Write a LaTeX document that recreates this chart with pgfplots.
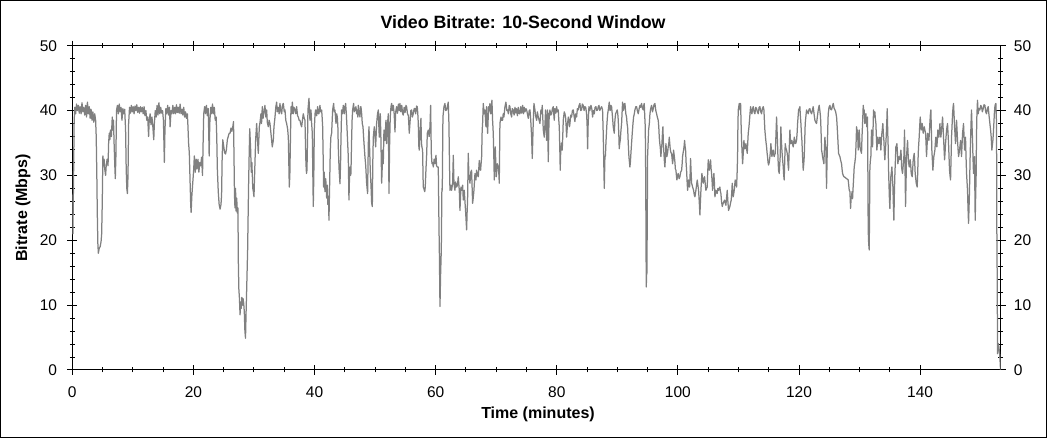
\documentclass[border=0pt]{standalone}
\usepackage{pgfplots}
\pgfplotsset{compat=1.18}
\usepackage{fontspec}
\setmainfont{Liberation Sans}
\definecolor{linegray}{RGB}{128,128,128}
\begin{document}
\begin{tikzpicture}
\draw[black, line width=1pt] (0.5pt,0.5pt) rectangle (1046.5pt,437.5pt);
\begin{axis}[
  at={(72.3pt,68pt)}, anchor=south west,
  scale only axis, width=928.4pt, height=324.3pt,
  xmin=0, xmax=153.3, ymin=0, ymax=50,
  xtick={0,20,...,140}, ytick={0,10,...,50},
  minor x tick num=3, minor y tick num=4,
  tick align=center, major tick length=10pt, minor tick length=5pt,
  tick style={black, line width=1pt},
  axis line style={black, line width=1pt},
  /pgf/number format/assume math mode=true,
  every tick label/.append style={font=\fontsize{15.5}{18}\selectfont},
  xticklabel style={anchor=base, inner sep=0pt, yshift=-22.5pt},
  yticklabel style={anchor=east, inner sep=0pt, xshift=-10pt},
  clip=true,
]
\addplot[color=linegray, line width=1.25pt, line join=round, mark=none] coordinates {
(0,27) (0.1,21) (0.2,29) (0.3,38) (0.4,40.5) (0.55,39.5) (0.7,41) (0.85,40) (1,40.8) (1.15,39.6) (1.3,40.6) (1.45,39.5) (1.6,41.2) (1.75,39.8) (1.9,40.5) (2.05,39.3) (2.2,40.8) (2.35,39) (2.5,41.3) (2.65,39.5)
(2.8,40.6) (2.95,38.8) (3.1,40.2) (3.25,38.5) (3.4,39.8) (3.55,38.2) (3.7,39.5) (3.85,38.5) (3.95,36) (4.05,30) (4.13,24) (4.22,19.5) (4.3,18) (4.45,18.8) (4.6,19) (4.75,19.8) (4.85,21) (4.95,26) (5.05,33) (5.15,31.5)
(5.25,32.5) (5.35,31) (5.5,30) (5.6,31.5) (5.75,32.5) (5.9,31.5) (6,35) (6.1,36.5) (6.2,35.5) (6.3,37) (6.45,36) (6.6,39) (6.7,37) (6.8,38.5) (6.9,35) (7,32) (7.1,29.5) (7.2,33) (7.3,40) (7.45,40.8)
(7.6,39.5) (7.75,41) (7.9,39.8) (8.05,40.5) (8.2,38.5) (8.35,40.3) (8.5,39.5) (8.65,40.2) (8.8,37) (8.9,31) (9,28) (9.1,27.2) (9.2,30) (9.3,38) (9.45,40.5) (9.6,39.6) (9.75,40.8) (9.9,39.8) (10.05,40.6) (10.2,39.5)
(10.35,40.7) (10.5,40) (10.65,40.9) (10.8,39.7) (10.95,40.5) (11.1,39.6) (11.25,40.6) (11.4,39.8) (11.55,40.5) (11.7,39.5) (11.85,40.6) (12,39.2) (12.15,40) (12.3,38.5) (12.45,39) (12.6,36) (12.7,38.5) (12.85,39.5) (13,37.8) (13.15,39)
(13.3,37.5) (13.45,35.5) (13.55,38) (13.7,40) (13.85,39) (14,40.8) (14.15,39.3) (14.3,41.2) (14.45,39.5) (14.6,40.5) (14.75,39.6) (14.9,40) (15.05,38.5) (15.2,32) (15.3,37) (15.45,40.3) (15.6,39.5) (15.75,40.8) (15.9,39.3) (16.05,40.5)
(16.15,37.5) (16.3,40) (16.45,39.5) (16.6,40.8) (16.75,39.5) (16.9,40.5) (17.05,39.5) (17.2,40.9) (17.35,39.7) (17.5,40.5) (17.65,39.6) (17.8,41) (17.95,39.5) (18.1,40.2) (18.25,39.3) (18.4,40.5) (18.55,39) (18.7,39.8) (18.85,38.8) (19,39.5)
(19.1,37.5) (19.2,35) (19.32,33.5) (19.45,29) (19.55,25.5) (19.62,24.3) (19.75,27) (19.9,29) (20.05,31) (20.15,33) (20.3,30.5) (20.45,32.5) (20.6,31) (20.75,32.5) (20.9,30.5) (21.05,32) (21.2,31.5) (21.35,32.8) (21.5,30) (21.6,35)
(21.7,39.5) (21.85,40.6) (22,39.5) (22.15,40.8) (22.3,39.2) (22.45,40.3) (22.6,33) (22.7,38) (22.85,40.5) (23,39.5) (23.15,41) (23.3,39.5) (23.45,40.5) (23.6,38.5) (23.75,39) (23.85,36) (23.95,31) (24.1,27.5) (24.25,25.5) (24.4,24.8)
(24.55,25.5) (24.65,27) (24.75,33) (24.85,35.5) (25,34.5) (25.15,33.5) (25.3,33.3) (25.45,34) (25.6,35.5) (25.75,36) (25.9,36.5)
(26.05,36.5) (26.2,37.3) (26.35,36.8) (26.5,37.5) (26.62,38.3) (26.7,33) (26.78,27) (26.86,25) (26.95,28) (27.05,24.5) (27.15,26.5) (27.25,24.2) (27.35,25) (27.42,16.5) (27.5,12.5) (27.6,11) (27.7,8.5) (27.8,10.5) (27.9,9.5) (28,11.2)
(28.1,10) (28.2,11) (28.3,10.3) (28.4,9) (28.5,6) (28.6,4.9) (28.7,9) (28.79,12.3) (28.95,18.5) (29.1,28) (29.2,33) (29.3,37.2) (29.45,34) (29.55,30.5) (29.65,32) (29.8,28) (29.9,27.5) (30,26.7) (30.1,30) (30.27,35.4)
(30.44,38) (30.55,36) (30.71,33.4) (30.88,37.5) (31,38.2) (31.15,39.5) (31.25,38) (31.37,40.6) (31.5,38.8) (31.6,39.5) (31.81,40.8) (31.95,39) (32.09,40.1) (32.2,38.2) (32.36,37.5) (32.5,38.5) (32.64,38) (32.8,36.5) (33.02,34.4) (33.19,35.4)
(33.3,37.5) (33.47,39) (33.6,40.5) (33.74,41.3) (33.85,39.8) (34.02,40.5) (34.15,39.5) (34.29,41.1) (34.45,39.8) (34.57,39.5) (34.7,40.8) (34.84,41.1) (35,39.8) (35.12,40.1) (35.25,38.5) (35.39,38) (35.55,37.2) (35.67,35.9) (35.75,32) (35.83,28.2)
(35.92,30) (35.99,33.9) (36.11,40.6) (36.22,39.5) (36.33,41.3) (36.49,39.5) (36.6,40.5) (36.77,40.1) (36.9,39.5) (37.04,40.6) (37.2,39.2) (37.32,39) (37.45,38.5) (37.59,38.5) (37.75,37.8) (37.87,37.5) (38,38.5) (38.14,39.5) (38.3,38.8) (38.42,38.5)
(38.5,35) (38.58,31.8) (38.67,30.3) (38.75,30.8) (38.85,36) (38.91,40.1) (39.08,41.9) (39.24,38.5) (39.41,40.1) (39.52,38) (39.63,36.5) (39.72,30) (39.79,25.2) (39.88,30) (39.96,37) (40.08,39.5) (40.18,40.1) (40.35,39.2) (40.51,40.6) (40.62,39.5)
(40.73,39.5) (40.89,40.8) (41,39.8) (41.17,40.1) (41.25,39) (41.34,37.5) (41.42,33) (41.5,28.2) (41.6,30.5) (41.72,27.5) (41.85,29.5) (42,26.5) (42.1,28.5) (42.2,25.5) (42.3,26.8) (42.38,23.1) (42.48,28) (42.6,33.9) (42.7,36) (42.82,36.5)
(42.99,40.1) (43.15,41.1) (43.25,39.8) (43.37,40.1) (43.54,38) (43.65,39.5) (43.76,39) (43.85,37.5) (43.92,34.4) (44.05,31) (44.2,28.7) (44.3,32) (44.36,35.4) (44.47,40.1) (44.6,39.5) (44.75,40.8) (44.91,39.5) (45.02,40.5) (45.13,41.1) (45.25,39.5)
(45.35,37.5) (45.47,35) (45.57,32.9) (45.68,26.2) (45.78,30) (45.85,31.3) (45.95,30) (46.01,30.3) (46.12,35.4) (46.2,38.5) (46.29,40.1) (46.45,41.1) (46.55,39.8) (46.67,40.1) (46.84,40.6) (46.95,39.5) (47.06,40.1) (47.15,39) (47.22,40.8) (47.35,39.8)
(47.5,39) (47.6,40.6) (47.66,40.6) (47.78,39.5) (47.88,38) (48,37.5) (48.1,35.9) (48.2,34.5) (48.32,32.9) (48.45,31.5) (48.6,28.8) (48.76,27.2) (48.88,35) (48.99,37.5) (49.1,34) (49.2,30.8) (49.32,28.5) (49.43,25.7) (49.54,25.2) (49.62,32)
(49.7,35.9) (49.87,37.5) (49.98,36) (50.09,34.4) (50.25,38) (50.4,39.5) (50.53,40.1) (50.6,38) (50.69,35.9) (50.78,38.5) (50.86,39.5) (50.95,36) (51.08,28.8) (51.15,30.5) (51.24,33.9) (51.35,31.8) (51.46,37) (51.63,35.4) (51.79,38.5) (51.9,34.9)
(52.01,37.5) (52.18,39.5) (52.29,27.2) (52.4,35) (52.5,39) (52.62,40.6) (52.73,41.1)
(52.85,40) (53,40.8) (53.15,39.5) (53.28,36.7) (53.4,39.8) (53.55,40.6) (53.7,39.6) (53.85,41) (54,40) (54.1,41.1) (54.25,39.8) (54.4,40.8) (54.55,39.5) (54.65,39.3) (54.8,40.5) (54.95,39.7) (55.1,40.8) (55.2,40.6) (55.35,39.5) (55.5,39.2)
(55.64,36.5) (55.75,38) (55.9,40) (56.03,40.1) (56.15,39) (56.3,39.5) (56.45,40.3) (56.58,40.3) (56.7,39.5) (56.85,40.7) (56.96,40.6) (57.05,39.5) (57.13,38) (57.22,34.5) (57.29,33.9) (57.4,36.5) (57.57,38.8) (57.65,35) (57.73,34.4) (57.84,33.9)
(57.95,28.2) (58.05,28) (58.12,27.7) (58.2,27.5) (58.28,28.2) (58.4,31) (58.5,32.9) (58.62,36.5) (58.78,37) (58.92,36) (59.06,37.5) (59.17,40.8) (59.28,33.4) (59.39,31.8) (59.5,32) (59.61,31.3) (59.75,32.5) (59.88,31.8) (60.05,33.1) (60.15,31.5)
(60.27,31.3) (60.43,31.3) (60.55,22) (60.62,17.5) (60.71,9.8) (60.82,14.9) (60.93,18.5) (61.03,28) (61.09,27.7) (61.2,39) (61.37,40.6) (61.53,41.1) (61.65,40) (61.81,40.1) (61.97,40.8) (62.08,41.3) (62.19,38) (62.28,32) (62.36,27.7) (62.5,28.5)
(62.63,27.7) (62.8,28.8) (62.91,33.1) (63.02,28.8) (63.18,27.7) (63.3,29) (63.46,28.2) (63.6,28.5) (63.73,29.8) (63.9,27.7) (64.01,24.6) (64.17,28.2) (64.34,27.7) (64.45,28.5) (64.56,26.2) (64.72,27.7) (64.89,25.2) (65,23.5) (65.11,21.6) (65.2,24.5)
(65.27,26.2) (65.38,33.4) (65.5,29.5) (65.55,29.8) (65.66,28.8) (65.8,30.5) (65.93,30.8) (66.1,25.7) (66.2,26.5) (66.32,27.7) (66.49,30.3) (66.65,29.3) (66.76,30.8) (66.9,30) (67.04,29.8) (67.2,32.3) (67.3,31) (67.42,30.8) (67.59,32.9) (67.68,37)
(67.75,38) (67.86,41.1) (68,39.5) (68.14,40.1) (68.3,37.5) (68.41,40.6) (68.5,38) (68.58,36.5) (68.74,40.6) (68.85,40) (68.96,41.1) (69.05,39.5) (69.13,39.5) (69.29,41.6) (69.4,38.5) (69.51,36.5) (69.6,33) (69.68,29.3) (69.76,32) (69.84,34.4)
(70.01,29.8) (70.17,31.8) (70.34,31.3) (70.45,30) (70.5,28.8) (70.61,38) (70.78,39) (70.9,38.5) (71.05,38.5) (71.15,39.5) (71.27,39) (71.44,40.6) (71.6,41.3) (71.75,40) (71.88,40.1) (72,39.5) (72.15,40.8) (72.26,40.6) (72.4,39.5) (72.54,39)
(72.65,40.3) (72.81,40.1) (72.95,39.3) (73.1,40.5) (73.25,39.6) (73.36,40.3) (73.5,39.2) (73.65,40.5) (73.8,39.5) (73.92,39.5) (74.05,40.6) (74.2,39.6) (74.36,40.8) (74.5,39.5) (74.62,40.5) (74.74,39.8) (74.9,40.3) (75.02,40.1) (75.15,39.5) (75.29,38.8)
(75.45,40) (75.57,40.1) (75.7,38.5) (75.84,36) (75.95,32.6) (76.05,36) (76.12,38.5) (76.23,41.1) (76.39,40.1) (76.5,39.2) (76.67,38.5) (76.8,39.8) (76.94,39) (77.08,38.5) (77.22,38)
(77.38,40.1) (77.5,39.5) (77.6,40.8) (77.77,37) (77.93,35.9) (78.05,38) (78.15,40.1) (78.25,37.5) (78.32,35.4) (78.4,38.5) (78.48,40.1) (78.59,32.1) (78.68,37) (78.76,39.5) (78.87,40.1) (79,39.3) (79.14,39.5) (79.28,40.3) (79.42,40.6) (79.5,39.5)
(79.58,38.5) (79.69,40.3) (79.85,39.6) (79.97,40.6) (80.1,39.8) (80.24,40.1) (80.33,38.5) (80.41,37.5) (80.5,34) (80.57,30.8) (80.62,33) (80.68,33.9) (80.8,35) (80.9,33.9) (81,36.5) (81.07,38.5) (81.23,39.8) (81.35,39.5) (81.45,39) (81.55,37.5)
(81.62,35.9) (81.7,37) (81.78,38) (81.9,39) (82,38.5) (82.1,37.5) (82.17,38) (82.3,39.3) (82.44,39) (82.58,40) (82.72,40.1) (82.85,39.2) (82.99,38.3) (83.12,39.5) (83.27,39) (83.4,40.3) (83.54,40.1) (83.68,40.8) (83.82,41.1) (83.95,40)
(84.09,40.1) (84.22,41) (84.37,40.8) (84.5,40) (84.65,40.6) (84.78,40.5) (84.92,39.5) (85,38) (85.09,34.1) (85.18,38) (85.31,40.6) (85.45,40) (85.64,40.8) (85.78,40.3) (85.91,39) (86.05,40) (86.19,39.5) (86.32,40.5) (86.46,40.6) (86.6,40)
(86.74,40.1) (86.85,40.6) (86.96,40.8) (87.1,40) (87.23,40.3) (87.4,40.6) (87.56,40.1) (87.65,37) (87.73,33.4) (87.84,28) (87.95,32.9) (88.03,33) (88.11,34.9) (88.28,38) (88.4,39.5) (88.5,40.1) (88.66,41.3) (88.78,40) (88.88,40.1) (88.95,40.8)
(89.05,40.6) (89.2,39) (89.32,37.5) (89.4,37) (89.49,36.5) (89.6,38.5) (89.71,39.5) (89.85,39.8) (89.98,40.1) (90.07,39.5) (90.15,38.5) (90.25,36) (90.31,34.1) (90.4,35) (90.48,35.4) (90.6,37) (90.7,38) (90.86,41.3) (90.95,40) (91.03,40.1)
(91.15,41) (91.25,41.1) (91.4,39.5) (91.52,39) (91.6,38) (91.69,37.5) (91.8,35) (91.91,32.9) (92,32) (92.07,31.3) (92.15,32) (92.24,33.4) (92.35,35) (92.46,36.5) (92.58,38) (92.68,39) (92.8,39.5) (92.9,40.1) (93.05,40.6) (93.18,40.6)
(93.3,40) (93.45,39.5) (93.6,40.3) (93.73,40.8) (93.85,40.5) (94,41.1) (94.15,40.3) (94.28,40.1) (94.36,40.8) (94.44,41.1) (94.53,39) (94.61,37.5) (94.68,30) (94.72,22.6) (94.77,12.8) (94.84,14.9) (94.88,14.9) (94.95,25) (94.99,32.9) (95.08,35)
(95.16,37) (95.28,38) (95.38,39.5) (95.5,40.3) (95.65,40.8) (95.8,39.8) (95.93,40.3) (96.05,40.9) (96.2,41.1) (96.35,40) (96.48,39.5) (96.6,39) (96.75,38.5) (96.84,37.5) (96.92,35.9) (97,35) (97.08,34.4) (97.19,32.9) (97.28,34) (97.36,34.9)
(97.45,36.5) (97.52,37.5) (97.6,35) (97.69,33.4) (97.78,32) (97.85,31.3) (97.95,33) (98.02,34.9) (98.1,34) (98.18,32.9) (98.3,33.5) (98.4,34.4) (98.5,35) (98.57,35.9) (98.65,35) (98.73,34.1) (98.85,33.5) (98.95,33.4) (99.05,32.5) (99.12,31.8)
(99.2,32.5) (99.28,33.9) (99.4,33) (99.5,32.1) (99.58,31) (99.67,30.8) (99.75,30) (99.83,29.3) (99.95,30) (100.05,30.3) (100.2,29.5) (100.33,29.8) (100.45,30.5) (100.61,30.8) (100.7,31.8) (100.77,32.9) (100.86,33.5) (100.94,33.9) (101.02,34.5) (101.1,35.4)
(101.18,34.5) (101.27,33.9) (101.35,32) (101.43,30.8) (101.52,29) (101.6,27.7) (101.68,28.5) (101.76,29.3) (101.85,28.8) (101.93,28.2) (102.01,30) (102.09,32.6) (102.18,30.5) (102.26,28.8) (102.35,28.5) (102.42,28.2) (102.5,28) (102.59,27.7) (102.7,27) (102.81,26.7)
(102.97,27.7) (103.08,28.5) (103.19,29.3) (103.3,28.5) (103.41,27.7) (103.52,26) (103.63,23.9) (103.72,26) (103.8,27.7) (103.88,29) (103.96,30.3) (104.08,29.5) (104.18,28.8) (104.3,29.5) (104.4,29.8) (104.5,28.8) (104.62,27.7) (104.73,28) (104.84,28.2) (104.92,30.5)
(105.01,32.4) (105.1,31.5) (105.17,30.8) (105.28,31.5) (105.39,32.4) (105.48,31) (105.56,30.3) (105.65,29) (105.72,27.7) (105.82,29) (105.94,30.3) (106.02,29) (106.11,26.7) (106.2,27.2) (106.27,27.7) (106.38,27.5) (106.49,27.2) (106.6,28) (106.71,27.7) (106.82,28)
(106.93,28.2) (107.02,27.5) (107.1,27.2) (107.2,26) (107.32,25.2) (107.4,25.5) (107.48,25.7) (107.6,26) (107.7,26.2) (107.8,25.8) (107.92,25.4) (108.03,26.5) (108.14,27.7) (108.25,26) (108.36,24.6) (108.47,24.9) (108.58,25.2) (108.7,25.8) (108.8,26.2) (108.9,27.5)
(108.97,28.8) (109.05,27.5) (109.13,26.7) (109.22,27.2) (109.3,27.7) (109.38,28.5) (109.46,29.3) (109.57,28.8) (109.69,28.2) (109.78,30.5) (109.85,32.9) (109.9,37) (109.96,40.1) (110.05,40.6) (110.13,41.1) (110.18,40.6) (110.24,40.1) (110.3,40.6) (110.35,41.1) (110.43,38)
(110.51,35.4) (110.6,33.5) (110.68,31.8) (110.8,33.5) (110.9,35.4) (110.98,34.5) (111.06,34.1) (111.15,34.5) (111.23,34.9) (111.35,34) (111.45,33.4) (111.53,35) (111.61,36.5) (111.7,37.2) (111.78,38) (111.9,39.5) (112,40.6) (112.1,39.8) (112.22,39.5) (112.33,40.3)
(112.44,40.6) (112.58,39.8) (112.71,39.5) (112.85,40.5) (112.99,40.3) (113.12,39.8) (113.26,39.5) (113.4,40.5) (113.54,40.6) (113.68,39.8) (113.81,39.5) (113.95,40.3) (114.09,40.6) (114.2,40.1) (114.28,38.5) (114.36,37) (114.5,35.5) (114.64,34.4) (114.72,33.5) (114.8,32.9)
(114.88,32) (114.97,31.6) (115.08,32) (115.19,32.9) (115.28,33.8) (115.35,34.9) (115.45,33.8) (115.52,32.9) (115.62,33.5) (115.74,33.9) (115.82,33.2) (115.9,32.9) (115.98,33.2) (116.07,33.4) (116.18,36) (116.29,39) (116.37,37) (116.45,34.9) (116.53,32.5) (116.62,30.8)
(116.73,30.3) (116.8,31.5) (116.89,32.9) (117,37.5) (117.08,35.5) (117.17,33.9) (117.28,32.5) (117.39,31.3) (117.47,30) (117.55,29.3) (117.63,32) (117.72,34.9) (117.83,34.2) (117.94,33.9) (118.03,33.5) (118.11,32.9) (118.2,31.5) (118.27,30.8) (118.38,34) (118.49,37)
(118.58,35.5) (118.66,34.9) (118.74,35.2) (118.82,35.4) (118.93,34.8) (119.04,34.4) (119.12,35) (119.21,35.9) (119.3,35.5) (119.37,34.9) (119.48,35) (119.59,35.4) (119.68,36.5) (119.76,38) (119.84,39) (119.92,40.1) (120.03,40.3) (120.14,40.6) (120.22,39.2) (120.31,38)
(120.39,36.5) (120.47,35.4) (120.58,33) (120.69,30.8) (120.78,31.8) (120.86,32.9) (120.94,35.5) (121.02,38) (121.12,39) (121.24,40.1) (121.38,39.8) (121.52,39.5) (121.65,40.2) (121.79,40.3) (121.92,39.8) (122.07,39.5) (122.2,40) (122.34,40.6) (122.48,39.5) (122.62,38.5)
(122.75,38.2) (122.89,38) (123.02,39) (123.17,40.1) (123.25,40.5) (123.33,40.8) (123.44,40) (123.55,39) (123.63,37) (123.72,33.9) (123.8,33.5) (123.88,32.9) (123.98,32.4) (124.1,31.8) (124.18,33.8) (124.27,35.9) (124.35,34.8) (124.43,33.9) (124.5,30.5) (124.54,28)
(124.62,32) (124.71,35.9) (124.78,38.5) (124.82,39.5) (124.95,40.5) (125.1,40.8) (125.22,40.2) (125.37,40.1) (125.5,40.6) (125.65,41.1) (125.78,40.4) (125.92,40.1) (126.05,39.8) (126.2,39) (126.28,37.8) (126.36,36.5) (126.45,34.8) (126.53,33.4) (126.65,33.1) (126.75,32.9)
(126.88,32.3) (127.02,31.8) (127.1,31) (127.19,30.3) (127.3,30) (127.41,29.8) (127.6,29.7) (127.85,29.5) (128,29.4) (128.12,29.3) (128.29,27.7)
(128.4,27.5) (128.51,24.9) (128.6,26.5) (128.67,26.7) (128.75,27.5) (128.84,26.4) (128.92,28) (129,29.3) (129.11,31.3) (129.22,32) (129.33,32.9) (129.42,35) (129.5,37.5) (129.58,36.5) (129.66,37) (129.77,33.9) (129.85,35) (129.94,37) (130.02,35.5) (130.1,34.1)
(130.2,33.8) (130.32,33.4) (130.4,36) (130.49,38) (130.6,40.8) (130.68,40) (130.76,40.1) (130.87,38) (130.95,39.2) (131.04,39.5) (131.12,38.5) (131.2,37.5) (131.31,39) (131.37,30) (131.42,21.6) (131.5,19.5) (131.59,18.5) (131.65,25) (131.7,31.3) (131.8,32.5)
(131.86,32.9) (131.97,37) (132.05,35.5) (132.14,34.4) (132.22,37) (132.3,40.1) (132.41,39) (132.52,39.8) (132.6,38.8) (132.69,38) (132.77,36) (132.85,33.9) (132.95,35) (133.02,35.9) (133.1,35) (133.18,34.9) (133.27,35.4) (133.35,35.9) (133.43,35) (133.51,33.9)
(133.6,35.5) (133.68,36.5) (133.76,37.2) (133.84,38) (133.92,36.5) (134.01,35.4) (134.1,33.5) (134.17,32.4) (134.28,34.2) (134.39,35.9) (134.48,38) (134.56,40.3) (134.64,37) (134.72,34.4) (134.78,31) (134.83,29.3) (134.92,26.5) (135,24.9) (135.08,27.5) (135.16,29.8)
(135.25,30.5) (135.33,31.3) (135.42,29.8) (135.5,28.2) (135.58,25.5) (135.66,23.1) (135.75,27.5) (135.83,30.3) (135.92,32.5) (135.99,34.4) (136.08,34.6) (136.16,34.9) (136.25,33.5) (136.32,31.8) (136.4,32.4) (136.49,32.9) (136.57,32.6) (136.65,32.4) (136.74,33.2) (136.82,33.9)
(136.88,33) (136.93,31.3) (137,30.8) (137.09,30.3) (137.2,31.5) (137.31,32.9) (137.37,35) (137.42,37) (137.5,31) (137.59,25.2) (137.67,29) (137.75,32.9) (137.84,34.2) (137.92,35.4) (137.98,34) (138.03,32.9) (138.1,32) (138.19,31.3) (138.28,31.8) (138.36,32.4)
(138.45,31.5) (138.52,30.3) (138.6,30) (138.69,29.8) (138.77,31) (138.85,32.4) (138.93,32.9) (139.02,33.4) (139.1,32) (139.18,30.3) (139.27,29.5) (139.35,28.8) (139.43,28.5) (139.51,28.2) (139.6,30.5) (139.68,33.4) (139.76,34.8) (139.84,35.9) (139.92,37.5) (140.01,39)
(140.09,38) (140.17,37) (140.25,37.5) (140.34,38) (140.42,37.2) (140.5,36.5) (140.58,37) (140.67,37.5) (140.78,37) (140.89,36.5) (140.97,35) (141.05,32.9) (141.14,34.5) (141.22,36.5) (141.33,36) (141.44,35.4) (141.52,36.5) (141.6,38) (141.68,39.3) (141.77,40.1)
(141.85,37) (141.93,33.9) (142.02,32.3) (142.1,30.8) (142.18,31.8) (142.26,32.9) (142.35,33.4) (142.43,33.9) (142.51,35) (142.59,35.9) (142.68,35.2) (142.76,34.4) (142.84,35.5) (142.92,37) (143.01,36.4) (143.09,35.9) (143.18,36.8) (143.26,38) (143.34,36.8) (143.42,35.9)
(143.48,36.5) (143.53,37) (143.62,38) (143.7,39) (143.78,37.5) (143.86,35.9) (143.95,34) (144.03,32.4) (144.11,33.5) (144.19,34.9) (144.28,36) (144.36,37) (144.44,37.5) (144.52,38) (144.6,36.5) (144.69,34.9) (144.77,32.8) (144.85,30.8) (144.93,30) (145.02,29.3)
(145.1,32.5) (145.18,35.9) (145.26,37.5) (145.35,39.5) (145.43,40.5) (145.51,41.1) (145.6,39.3) (145.68,37.5) (145.76,36.2) (145.84,34.9) (145.92,36.5) (146.01,38.5) (146.09,37) (146.17,35.4) (146.26,34) (146.34,32.9) (146.42,33.4) (146.5,33.9) (146.58,34.6) (146.67,35.4)
(146.75,34.2) (146.83,32.9) (146.92,34.8) (147,36.5) (147.08,37.2) (147.16,38) (147.25,36) (147.33,33.9) (147.41,34.9) (147.49,35.9) (147.57,33) (147.66,30.3) (147.74,29) (147.82,27.7) (147.9,25) (147.99,22.6) (148.07,25) (148.15,27.7) (148.23,32) (148.32,35.4)
(148.4,38) (148.48,40.1) (148.56,37.8) (148.65,35.4) (148.73,32.5) (148.81,30.3) (148.9,31.5) (148.98,32.9) (149.03,28) (149.09,23.1) (149.17,27) (149.25,30.3) (149.3,36) (149.36,39) (149.42,40.5) (149.47,41.6) (149.58,39.5) (149.72,40.3) (149.86,40.1) (150,40.8)
(150.13,40.6) (150.27,39.8) (150.41,40.3) (150.55,40.9) (150.69,40.8) (150.83,39.8) (150.96,39.5) (151.1,40.3) (151.24,40.6) (151.32,39.7) (151.4,39) (151.48,38.3) (151.57,37.5) (151.65,36.8) (151.73,35.9) (151.84,33.9) (151.92,34.6) (152.01,35.4) (152.1,36.7) (152.17,38)
(152.25,39.5) (152.34,40.6) (152.42,41) (152.5,41.1) (152.61,38) (152.67,20) (152.72,14.4) (152.78,2.5) (152.89,4.1) (153,3.6) (153.11,2.6) (153.22,1) (153.27,0)
};
\end{axis}
\begin{axis}[
  at={(72.3pt,68pt)}, anchor=south west,
  scale only axis, width=928.4pt, height=324.3pt,
  xmin=0, xmax=153.3, ymin=0, ymax=50,
  hide x axis,
  axis y line*=right,
  y axis line style={draw=none},
  ytick={0,10,...,50},
  ytick style={draw=none},
  /pgf/number format/assume math mode=true,
  every tick label/.append style={font=\fontsize{15.5}{18}\selectfont},
  yticklabel style={anchor=west, inner sep=0pt, xshift=13pt},
]
\end{axis}
\node[anchor=base, font=\bfseries\fontsize{17.8}{21}\selectfont] at (523pt,409.7pt) {Video Bitrate: 10-Second Window};
\node[anchor=base, font=\bfseries\fontsize{16}{19}\selectfont] at (538pt,19pt) {Time (minutes)};
\node[anchor=base, rotate=90, font=\bfseries\fontsize{16}{19}\selectfont] at (27pt,230pt) {Bitrate (Mbps)};
\end{tikzpicture}
\end{document}
